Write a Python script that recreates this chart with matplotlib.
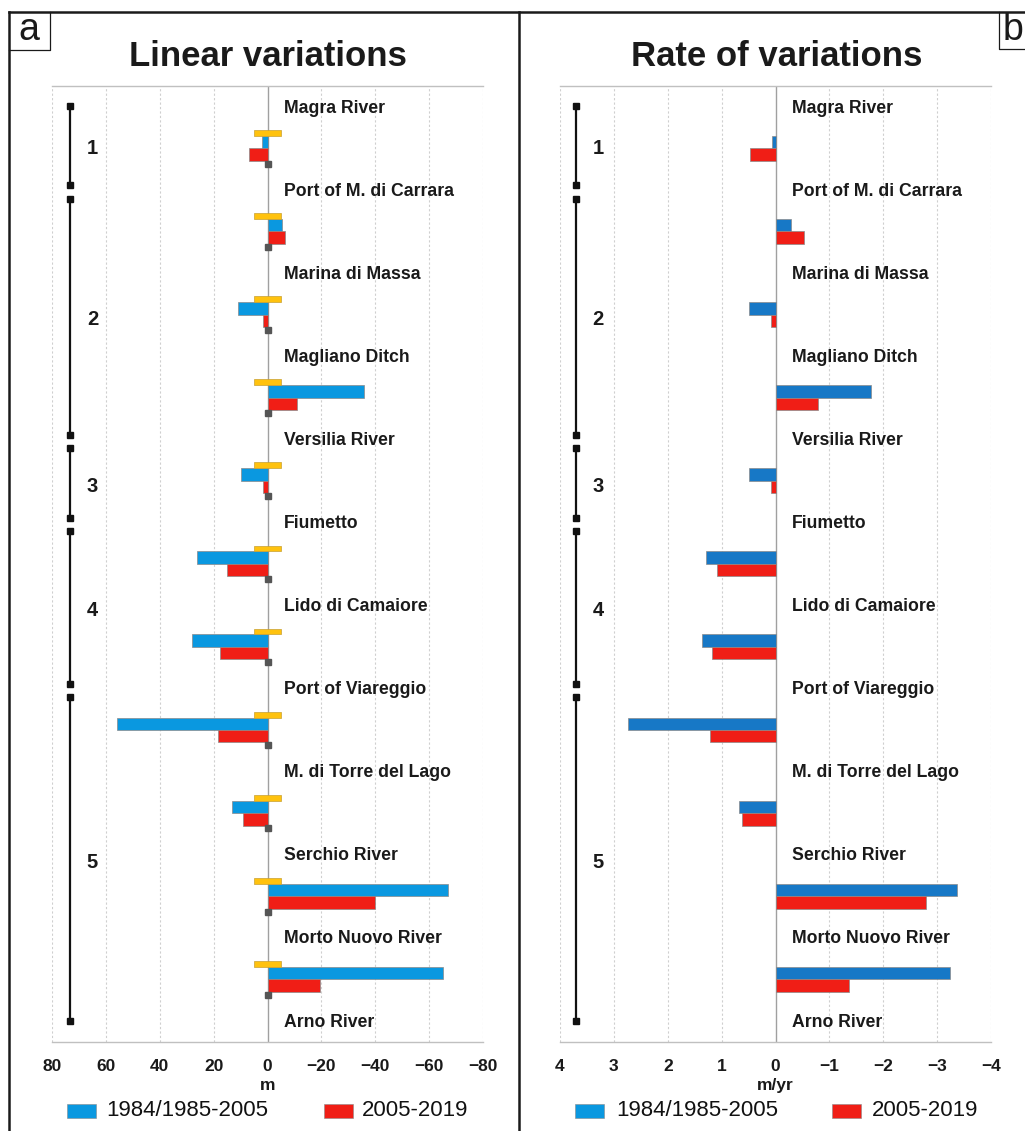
import matplotlib
matplotlib.use("Agg")
import matplotlib.pyplot as plt
from matplotlib.patches import Rectangle
from matplotlib.lines import Line2D
import numpy as np

plt.rcParams['font.family'] = ['Liberation Sans', 'DejaVu Sans']

# ---------------- data ----------------
locations = ["Magra River", "Port of M. di Carrara", "Marina di Massa", "Magliano Ditch",
             "Versilia River", "Fiumetto", "Lido di Camaiore", "Port of Viareggio",
             "M. di Torre del Lago", "Serchio River", "Morto Nuovo River", "Arno River"]

# linear variations (m), positive = accretion (plotted to the left)
linear_1984_2005 = [2, -5.5, 11, -36, 10, 26, 28, 56, 13, -67, -65]
linear_2005_2019 = [7, -6.5, 1.7, -11, 1.7, 15, 17.5, 18.5, 9, -40, -19.5]
linear_uncertainty = 5

# rate of variations (m/yr)
rate_1984_2005 = [0.07, -0.29, 0.49, -1.78, 0.49, 1.29, 1.36, 2.74, 0.68, -3.36, -3.24]
rate_2005_2019 = [0.47, -0.53, 0.09, -0.79, 0.08, 1.09, 1.18, 1.22, 0.63, -2.79, -1.37]

# physiographic units: (start location index, end location index, label)
units = [(0, 1, "1"), (1, 4, "2"), (4, 5, "3"), (5, 7, "4"), (7, 11, "5")]

series_labels = ["1984/1985-2005", "2005-2019"]

linear_ticks = [80, 60, 40, 20, 0, -20, -40, -60, -80]
rate_ticks = [4, 3, 2, 1, 0, -1, -2, -3, -4]

# ---------------- style ----------------
W, H = 1025, 1131
BLUE_A = "#0A98E0"
BLUE_B = "#1778C6"
RED = "#F01E16"
YELLOW = "#FFC20E"
EDGE = "#8a8a8a"

fig = plt.figure(figsize=(W / 100, H / 100), dpi=100)


def fx(px):
    return px / W


def fy(py):
    return 1 - py / H


def make_panel(left_px, right_px, xticks, blue_vals, red_vals, blue_col, xlabel,
               show_unc, bracket_x, num_x, label_x):
    top_px, bot_px = 86, 1042
    ax = fig.add_axes([fx(left_px), fy(bot_px), fx(right_px - left_px),
                       (bot_px - top_px) / H])
    xmax = xticks[0]
    ax.set_xlim(xmax, -xmax)
    ax.set_ylim(11.24, -0.265)
    ax.set_yticks([])
    ax.set_xticks(xticks)
    ax.set_xticklabels([str(t).replace("-", "\u2212") for t in xticks],
                       fontsize=12.5, fontweight="bold", color="#1a1a1a")
    ax.tick_params(axis="x", length=0, pad=12)
    ax.set_xlabel(xlabel, fontsize=12.5, fontweight="bold", labelpad=3,
                  color="#1a1a1a")
    for s in ["left", "right"]:
        ax.spines[s].set_visible(False)
    for s in ["top", "bottom"]:
        ax.spines[s].set_color("#c0c0c0")
        ax.spines[s].set_linewidth(1.0)
    for t in xticks:
        if t == 0:
            ax.axvline(0, color="#a0a0a0", lw=1.0, zorder=1)
        else:
            ax.axvline(t, color="#cfcfcf", lw=0.8, ls=(0, (2, 2)), zorder=0)

    seg = np.arange(len(blue_vals)) + 0.0
    ax.barh(seg + 0.41, blue_vals, height=0.15, color=blue_col, edgecolor=EDGE,
            linewidth=0.5, zorder=3)
    ax.barh(seg + 0.56, red_vals, height=0.15, color=RED, edgecolor=EDGE,
            linewidth=0.5, zorder=3)
    if show_unc:
        ax.barh(seg + 0.30, 2 * linear_uncertainty, left=-linear_uncertainty,
                height=0.07, color=YELLOW, edgecolor="#c8a030", linewidth=0.5, zorder=4)
        ax.plot(np.zeros_like(seg), seg + 0.67, ls="none", marker="s", ms=5,
                color="#555555", zorder=5)

    for i, name in enumerate(locations):
        ax.text(label_x, i, name, fontsize=12.7, fontweight="bold", ha="left",
                va="center", color="#1a1a1a", zorder=6)

    for (a, b, lab) in units:
        y0 = a + 0.09 if a > 0 else a - 0.03
        y1 = b - 0.07 if b < 11 else b - 0.01
        ax.plot([bracket_x, bracket_x], [y0, y1], color="#111111", lw=1.6,
                marker="s", ms=4.5, zorder=5)
        ax.text(num_x, (y0 + y1) / 2 + 0.04, lab, fontsize=14.5, fontweight="bold",
                ha="center", va="center", color="#1a1a1a")
    return ax


axa = make_panel(52, 483, linear_ticks, linear_1984_2005, linear_2005_2019, BLUE_A,
                 "m", True, 73.3, 65.0, -6.0)
axb = make_panel(560, 991, rate_ticks, rate_1984_2005, rate_2005_2019, BLUE_B,
                 "m/yr", False, 3.70, 3.29, -0.30)

# titles
fig.text(fx(268), fy(57), "Linear variations", fontsize=25, fontweight="bold",
         ha="center", va="center", color="#1a1a1a")
fig.text(fx(777), fy(57), "Rate of variations", fontsize=25, fontweight="bold",
         ha="center", va="center", color="#1a1a1a")

# legends
def legend_row(x_blue, x_txt1, x_red, x_txt2):
    y = 1111
    for xp, col in [(x_blue, BLUE_A), (x_red, RED)]:
        fig.patches.append(Rectangle((fx(xp), fy(y + 7)), fx(29), 14 / H,
                                     transform=fig.transFigure, facecolor=col,
                                     edgecolor=EDGE, linewidth=0.4))
    fig.text(fx(x_txt1), fy(y), series_labels[0], fontsize=16, ha="left",
             va="center", color="#111111")
    fig.text(fx(x_txt2), fy(y), series_labels[1], fontsize=16, ha="left",
             va="center", color="#111111")

legend_row(67, 106, 324, 362)
legend_row(575, 616, 832, 872)

# frames
frame_kw = dict(transform=fig.transFigure, color="#1a1a1a", lw=1.8)
fig.lines.append(Line2D([fx(9), fx(9)], [fy(12), 0], **frame_kw))
fig.lines.append(Line2D([fx(9), 1], [fy(12), fy(12)], **frame_kw))
fig.lines.append(Line2D([fx(519), fx(519)], [fy(12), 0], **frame_kw))

# panel letters
box_kw = dict(transform=fig.transFigure, color="#1a1a1a", lw=0.9)
fig.lines.append(Line2D([fx(9), fx(50), fx(50)], [fy(50), fy(50), fy(12)], **box_kw))
fig.text(fx(29), fy(30), "a", fontsize=27, ha="center", va="center", color="#1a1a1a")
fig.lines.append(Line2D([fx(999), fx(999), 1], [fy(12), fy(49), fy(49)], **box_kw))
fig.text(fx(1003), fy(30), "b", fontsize=27, ha="left", va="center", color="#1a1a1a")

fig.savefig("out.png", dpi=100)
